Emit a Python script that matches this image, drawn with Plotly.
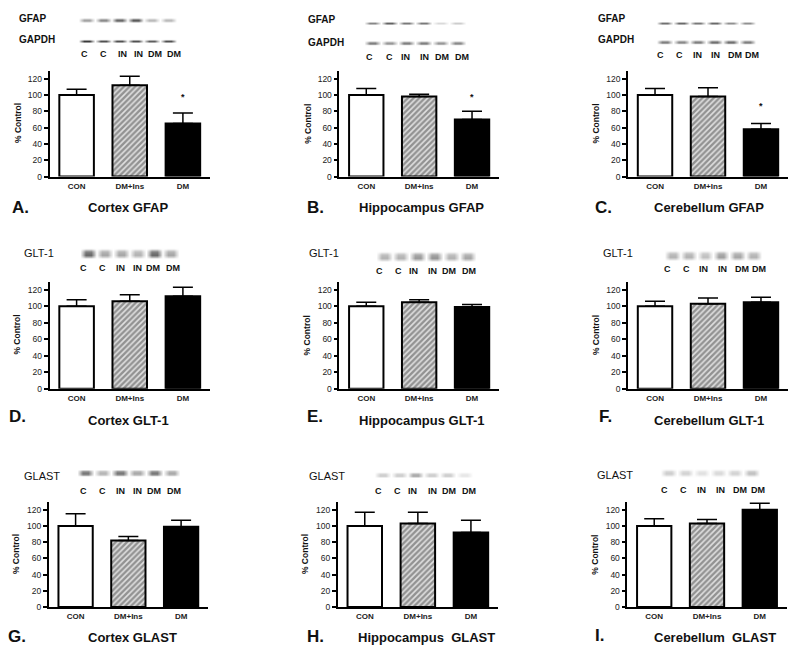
import plotly.graph_objects as go

W, H = 800, 653
GROUPS = ["CON", "DM+Ins", "DM"]
LANES = ["C", "C", "IN", "IN", "DM", "DM"]
Y_TICKS = [0, 20, 40, 60, 80, 100, 120]

# Values: means
cortex_gfap = [100, 112, 65]
hippocampus_gfap = [100, 98, 70]
cerebellum_gfap = [100, 98, 58]
cortex_glt1 = [100, 106, 112]
hippocampus_glt1 = [100, 105, 99]
cerebellum_glt1 = [100, 103, 105]
cortex_glast = [100, 82, 99]
hippocampus_glast = [100, 103, 92]
cerebellum_glast = [100, 103, 120]

# Upper error bars
cortex_gfap_err = [7, 11, 13]
hippocampus_gfap_err = [8, 3, 10]
cerebellum_gfap_err = [8, 11, 7]
cortex_glt1_err = [8, 8, 11]
hippocampus_glt1_err = [5, 3, 3]
cerebellum_glt1_err = [6, 7, 6]
cortex_glast_err = [15, 5, 8]
hippocampus_glast_err = [17, 14, 15]
cerebellum_glast_err = [9, 5, 8]

# Band strengths on the blots (0 = white, 1 = black)
band_cortex_gfap = [.38, .48, .62, .68, .28, .28]
band_cortex_gapdh = [.88, .78, .78, .78, .72, .78]
band_hippo_gfap = [.52, .68, .58, .58, .16, .22]
band_hippo_gapdh = [.52, .42, .52, .52, .42, .48]
band_cereb_gfap = [.62, .65, .58, .65, .48, .48]
band_cereb_gapdh = [.52, .48, .52, .58, .58, .52]
band_cortex_glt1 = [.6, .35, .35, .3, .6, .35]
band_hippo_glt1 = [.3, .3, .4, .42, .3, .35]
band_cereb_glt1 = [.3, .3, .25, .38, .35, .3]
band_cortex_glast = [.55, .3, .55, .35, .55, .35]
band_hippo_glast = [.2, .2, .35, .2, .2, .1]
band_cereb_glast = [.2, .18, .12, .15, .18, .25]

panels = [
    dict(letter="A.", title="Cortex GFAP", means=cortex_gfap, err=cortex_gfap_err, star=97,
         ax=(49.5, 210), ay=(70.7, 177), title_xy=(128, 208), letter_xy=(10, 208),
         blots=[("GFAP", band_cortex_gfap, (76, 179), 20, 7, (17, 19), True),
                ("GAPDH", band_cortex_gapdh, (76, 179), 41, 6, (17, 40), True)],
         lane_y=54, lane_x=[84, 103, 122, 138, 155, 174]),
    dict(letter="B.", title="Hippocampus GFAP", means=hippocampus_gfap, err=hippocampus_gfap_err, star=97,
         ax=(339.3, 499), ay=(70.7, 177), title_xy=(421, 208), letter_xy=(305, 208),
         blots=[("GFAP", band_hippo_gfap, (361, 469), 23, 6, (306, 20), True),
                ("GAPDH", band_hippo_gapdh, (361, 469), 43, 5, (306, 43), True)],
         lane_y=57, lane_x=[369, 389, 405, 424, 442, 462]),
    dict(letter="C.", title="Cerebellum GFAP", means=cerebellum_gfap, err=cerebellum_gfap_err, star=86,
         ax=(628, 788), ay=(70.7, 177), title_xy=(709, 208), letter_xy=(593, 208),
         blots=[("GFAP", band_cereb_gfap, (654, 758), 23, 6, (596, 19), True),
                ("GAPDH", band_cereb_gapdh, (654, 758), 42, 5, (596, 40), True)],
         lane_y=55, lane_x=[660, 679, 697, 715, 735, 752]),
    dict(letter="D.", title="Cortex GLT-1", means=cortex_glt1, err=cortex_glt1_err, star=None,
         ax=(49.5, 210), ay=(282.3, 389.7), title_xy=(128, 422), letter_xy=(7, 418),
         blots=[("GLT-1", band_cortex_glt1, (77, 182), 254, 13, (22, 254), False)],
         lane_y=269, lane_x=[83, 102, 120, 137, 153, 173]),
    dict(letter="E.", title="Hippocampus GLT-1", means=hippocampus_glt1, err=hippocampus_glt1_err, star=None,
         ax=(339.3, 499), ay=(282.3, 389.7), title_xy=(421, 422), letter_xy=(305, 418),
         blots=[("GLT-1", band_hippo_glt1, (373, 479), 257, 13, (307, 254), False)],
         lane_y=272, lane_x=[379, 398, 413, 432, 449, 469]),
    dict(letter="F.", title="Cerebellum GLT-1", means=cerebellum_glt1, err=cerebellum_glt1_err, star=None,
         ax=(628, 788), ay=(282.3, 389.7), title_xy=(709, 422), letter_xy=(597, 418),
         blots=[("GLT-1", band_cereb_glt1, (662, 764), 256, 13, (601, 254), False)],
         lane_y=270, lane_x=[667, 686, 703, 722, 742, 759]),
    dict(letter="G.", title="Cortex GLAST", means=cortex_glast, err=cortex_glast_err, star=None,
         ax=(48.7, 208), ay=(503, 608.7), title_xy=(132, 639), letter_xy=(6, 638),
         blots=[("GLAST", band_cortex_glast, (74, 183), 474, 9, (22, 477), False)],
         lane_y=492, lane_x=[83, 102, 120, 137, 154, 174]),
    dict(letter="H.", title="Hippocampus  GLAST", means=hippocampus_glast, err=hippocampus_glast_err, star=None,
         ax=(337.7, 498), ay=(503, 608.7), title_xy=(427, 639), letter_xy=(305, 638),
         blots=[("GLAST", band_hippo_glast, (372, 475), 476, 8, (307, 477), False)],
         lane_y=492, lane_x=[378, 397, 412, 432, 449, 469]),
    dict(letter="I.", title="Cerebellum  GLAST", means=cerebellum_glast, err=cerebellum_glast_err, star=None,
         ax=(627.3, 786.7), ay=(503, 608.7), title_xy=(715, 639), letter_xy=(593, 637),
         blots=[("GLAST", band_cereb_glast, (658, 762), 474, 11, (595, 476), False)],
         lane_y=491, lane_x=[664, 683, 701, 720, 740, 758]),
]

FONT = "Liberation Sans, Arial, sans-serif"
px = lambda x: x / W
py = lambda y: 1 - y * 1.005 / H

fig = go.Figure()
layout = dict(width=W, height=H, margin=dict(l=0, r=0, t=0, b=0), showlegend=False,
              paper_bgcolor="white", plot_bgcolor="white", bargap=0.34,
              font=dict(family=FONT, color="black"))
annotations = []


def text(x, y, s, size, bold=True, anchor="center", angle=0, color="#111"):
    annotations.append(dict(x=px(x), y=py(y), xref="paper", yref="paper", text=f"<b>{s}</b>" if bold else s,
                            showarrow=False, xanchor=anchor, yanchor="middle", textangle=angle,
                            font=dict(size=size, family=FONT, color=color)))


axis_n = 0
for p in panels:
    axis_n += 1
    xa, ya = f"x{axis_n}", f"y{axis_n}"
    fig.add_trace(go.Bar(
        x=[0, 1, 2], y=p["means"], xaxis=xa, yaxis=ya, width=0.65,
        marker=dict(color=["white", "#e0e0e0", "black"],
                    line=dict(color="black", width=2),
                    pattern=dict(shape=["", "/", ""], size=4, solidity=0.6, fgcolor="#111111")),
        error_y=dict(type="data", symmetric=False, array=p["err"], arrayminus=[0, 0, 0],
                     color="black", thickness=1.5, width=10),
    ))
    layout[f"xaxis{axis_n}"] = dict(domain=[px(p["ax"][0]), px(p["ax"][1])], anchor=ya, range=[-0.51, 2.51],
                                    tickmode="array", tickvals=[0, 1, 2], ticktext=[f"<b>{g}</b>" for g in GROUPS],
                                    tickfont=dict(size=8, color="#222"), ticks="", showgrid=False, zeroline=False,
                                    showline=True, linecolor="black", linewidth=1.5, ticklabelstandoff=1)
    layout[f"yaxis{axis_n}"] = dict(domain=[py(p["ay"][1]), py(p["ay"][0])], anchor=xa, range=[0, 130],
                                    tickmode="array", tickvals=Y_TICKS, tickfont=dict(size=8.5, color="#222"),
                                    ticks="outside", ticklen=4, tickwidth=1.5, tickcolor="black",
                                    showgrid=False, zeroline=False, showline=True, linecolor="black", linewidth=1.5)
    if p["star"] is not None:
        annotations.append(dict(x=2, y=p["star"], xref=xa, yref=ya, text="<b>*</b>", showarrow=False,
                                font=dict(size=9, family=FONT, color="#111")))
    mid = (p["ay"][0] + p["ay"][1]) / 2
    text(p["ax"][0] - 32, mid, "% Control", 8.5, angle=-90)
    text(*p["title_xy"], p["title"], 13)
    text(p["letter_xy"][0], p["letter_xy"][1], p["letter"], 17, anchor="left")
    for lx, lab in zip(p["lane_x"], LANES):
        text(lx, p["lane_y"], lab, 9)
    for name, bands, xr, yc, th, label_xy, bold in p["blots"]:
        axis_n += 1
        xa2, ya2 = f"x{axis_n}", f"y{axis_n}"
        row = [0.0]
        for v in bands:
            row += [v, v, 0.0]
        rows = [[0.0] * len(row), row, [c * 0.8 for c in row], [0.0] * len(row)]
        fig.add_trace(go.Heatmap(z=rows, xaxis=xa2, yaxis=ya2, zmin=0, zmax=1, zsmooth="best", showscale=False,
                                 colorscale=[[0, "white"], [1, "black"]], hoverinfo="skip"))
        layout[f"xaxis{axis_n}"] = dict(domain=[px(xr[0]), px(xr[1])], anchor=ya2, visible=False)
        layout[f"yaxis{axis_n}"] = dict(domain=[py(yc + th / 2), py(yc - th / 2)], anchor=xa2, visible=False)
        text(label_xy[0], label_xy[1], name, 10 if bold else 11, bold=bold, anchor="left")

layout["annotations"] = annotations
fig.update_layout(**layout)
fig.write_html("out.html", config={"displayModeBar": False},
               post_script="document.body.style.margin='0';document.documentElement.style.overflow='hidden';")
